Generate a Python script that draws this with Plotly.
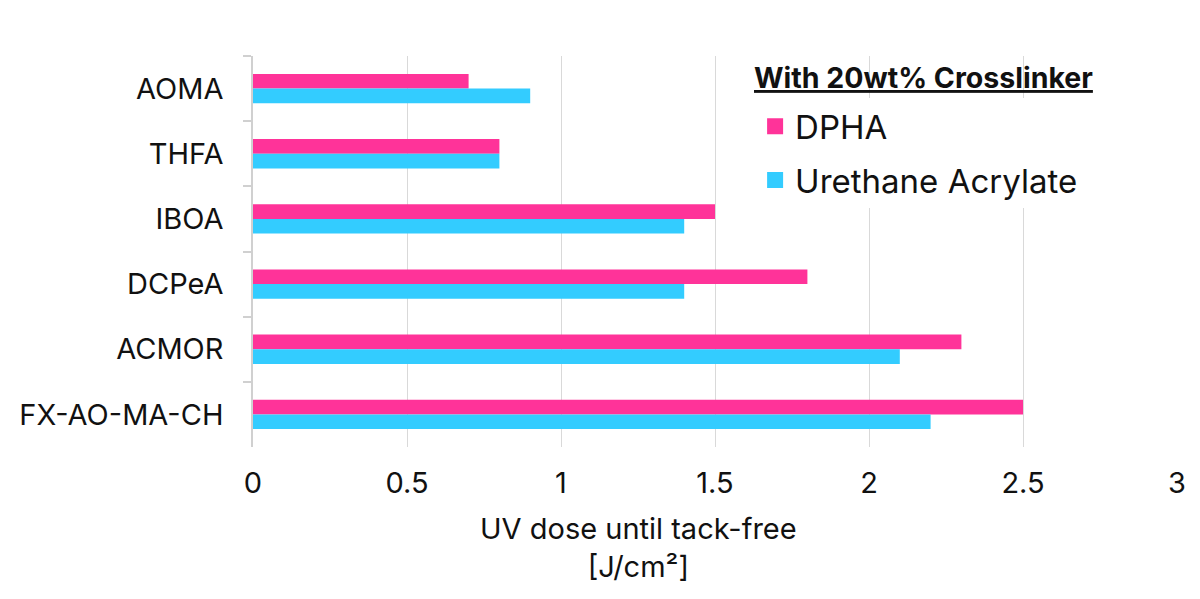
import plotly.graph_objects as go

categories = ["AOMA", "THFA", "IBOA", "DCPeA", "ACMOR", "FX-AO-MA-CH"]
dpha = [0.7, 0.8, 1.5, 1.8, 2.3, 2.5]
urethane = [0.9, 0.8, 1.4, 1.4, 2.1, 2.2]
x_ticks = [0, 0.5, 1, 1.5, 2, 2.5, 3]
x_tick_labels = ["0", "0.5", "1", "1.5", "2", "2.5", "3"]
series_names = ["DPHA", "Urethane Acrylate"]
series_colors = ["#FF3399", "#33CCFF"]
legend_title = "With 20wt% Crosslinker"
x_title = "UV dose until tack-free<br>[J/cm²]"

FONT = "Inter, Roboto, sans-serif"

fig = go.Figure()
for name, vals, col in zip(series_names, [dpha, urethane], series_colors):
    fig.add_trace(go.Bar(y=categories, x=vals, orientation="h", name=name,
                         marker=dict(color=col, line=dict(width=0)), showlegend=False))
for name, col in zip(series_names, series_colors):
    fig.add_trace(go.Scatter(x=[None], y=[None], mode="markers", name=name,
                             legendgroup=name,
                             marker=dict(symbol="square", size=17, color=col)))

fig.add_annotation(text=f"<b><u>{legend_title}</u></b>", xref="paper", yref="paper",
                   x=0.540, y=0.944, xanchor="left", yanchor="middle", showarrow=False,
                   font=dict(size=28.5, color="#111111"))
fig.add_annotation(text=x_title, xref="paper", yref="paper",
                   x=0.417, y=-0.258, xanchor="center", yanchor="middle", showarrow=False,
                   font=dict(size=29, color="#111111"))

fig.update_layout(
    width=1200, height=599,
    barmode="group", bargap=0.55, bargroupgap=0,
    plot_bgcolor="white", paper_bgcolor="white",
    margin=dict(l=245, r=31, t=48, b=160),
    font=dict(family=FONT, size=29, color="#111111"),
    xaxis=dict(range=[0, 3], tickvals=x_ticks, ticktext=x_tick_labels,
               showgrid=True, gridcolor="#D9D9D9", gridwidth=1,
               zeroline=False, showline=False, ticks="",
               tickfont=dict(size=29), ticklabelstandoff=16),
    yaxis=dict(autorange="reversed", showline=True, linecolor="#D0D0D0", linewidth=1.5,
               ticks="outside", tickson="boundaries", ticklen=8, tickcolor="#D0D0D0",
               tickwidth=1.5, showgrid=False, tickfont=dict(size=29), ticklabelstandoff=22),
    legend=dict(
        x=0.5434, y=0.892, xanchor="left", yanchor="top",
        font=dict(size=33, color="#111111"),
        bgcolor="rgba(255,255,255,1)",
        traceorder="grouped", tracegroupgap=8,
    ),
)

fig.write_html("out.html")
